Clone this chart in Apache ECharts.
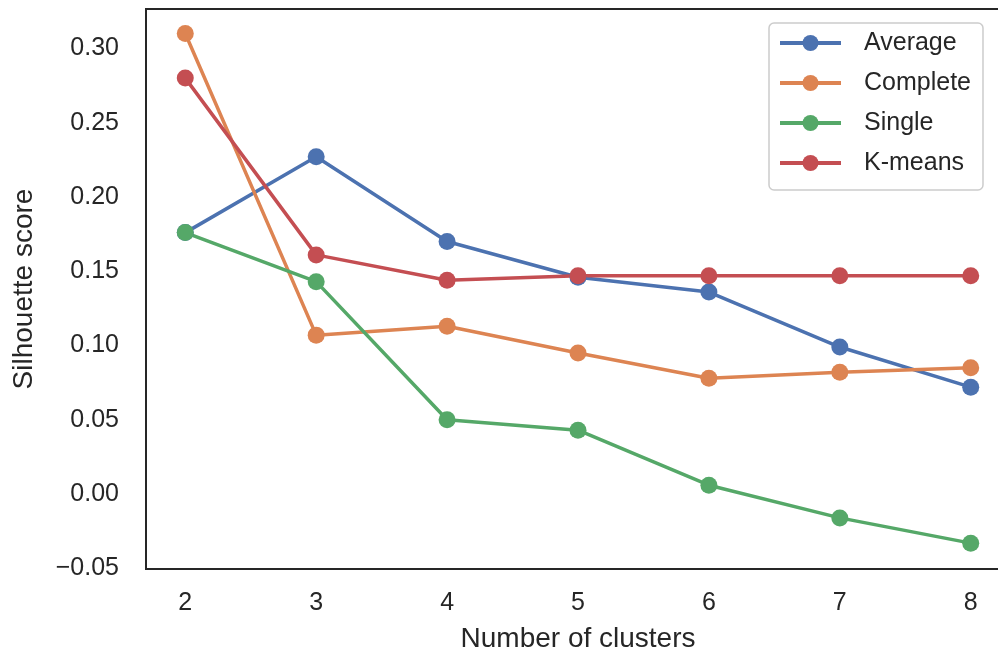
<!DOCTYPE html>
<html>
<head>
<meta charset="utf-8">
<script src="https://cdn.jsdelivr.net/npm/echarts@6/dist/echarts.min.js"></script>
<style>
  html, body { margin: 0; padding: 0; background: #ffffff; }
  #chart { width: 998px; height: 654px; }
</style>
</head>
<body>
<div id="chart"></div>
<script>
// Silhouette score per number of clusters for each clustering method
const clusters = [2, 3, 4, 5, 6, 7, 8];
const average  = [0.176, 0.227, 0.170, 0.146, 0.136, 0.099, 0.072];
const complete = [0.310, 0.107, 0.113, 0.095, 0.078, 0.082, 0.085];
const single   = [0.176, 0.143, 0.050, 0.043, 0.006, -0.016, -0.033];
const kmeans   = [0.280, 0.161, 0.144, 0.147, 0.147, 0.147, 0.147];

const yTicks = [-0.05, 0.00, 0.05, 0.10, 0.15, 0.20, 0.25, 0.30];

const FONT = '"Liberation Sans", Arial, Helvetica, sans-serif';
const INK = '#262626';

const methods = [
  { name: 'Average',  values: average,  color: '#4C72B0' },
  { name: 'Complete', values: complete, color: '#DD8452' },
  { name: 'Single',   values: single,   color: '#55A868' },
  { name: 'K-means',  values: kmeans,   color: '#C44E52' }
];

const chart = echarts.init(document.getElementById('chart'), null, { renderer: 'canvas' });

chart.setOption({
  backgroundColor: '#ffffff',
  animation: false,
  textStyle: { fontFamily: FONT, color: INK },
  grid: {
    left: 146, top: 9, right: -12, bottom: 85,
    outerBoundsMode: 'none',
    containLabel: false,
    show: true, borderColor: INK, borderWidth: 2, backgroundColor: '#ffffff'
  },
  xAxis: {
    type: 'value',
    min: 1.7, max: 8.3,
    name: 'Number of clusters',
    nameLocation: 'middle',
    nameGap: 56,
    nameTextStyle: { fontSize: 28, color: INK, fontFamily: FONT },
    axisLine: { show: false },
    axisTick: { show: false },
    splitLine: { show: false },
    axisLabel: {
      customValues: clusters,
      fontSize: 25, color: INK, fontFamily: FONT, margin: 22,
      formatter: v => String(v)
    }
  },
  yAxis: {
    type: 'value',
    min: -0.0504, max: 0.3265,
    name: 'Silhouette score',
    nameLocation: 'middle',
    nameGap: 108,
    nameTextStyle: { fontSize: 28, color: INK, fontFamily: FONT },
    axisLine: { show: false },
    axisTick: { show: false },
    splitLine: { show: false },
    axisLabel: {
      customValues: yTicks,
      fontSize: 25, color: INK, fontFamily: FONT, margin: 27,
      formatter: v => (v < -1e-9 ? '\u2212' : '') + Math.abs(v).toFixed(2)
    }
  },
  legend: {
    orient: 'vertical',
    left: 769, top: 23,
    padding: [5, 12, 12, 9],
    itemWidth: 61, itemHeight: 20, itemGap: 10,
    backgroundColor: '#ffffff',
    borderColor: '#cccccc', borderWidth: 1.5, borderRadius: 5,
    lineStyle: { width: 4 },
    textStyle: { fontSize: 25, lineHeight: 30, color: INK, fontFamily: FONT, padding: [0, 0, 0, 18] },
    data: methods.map(m => m.name)
  },
  series: methods.map(m => ({
    name: m.name,
    type: 'line',
    data: clusters.map((c, i) => [c, m.values[i]]),
    symbol: 'circle',
    symbolSize: 17,
    color: m.color,
    itemStyle: { color: m.color },
    lineStyle: { color: m.color, width: 3.5 }
  }))
});
</script>
</body>
</html>
